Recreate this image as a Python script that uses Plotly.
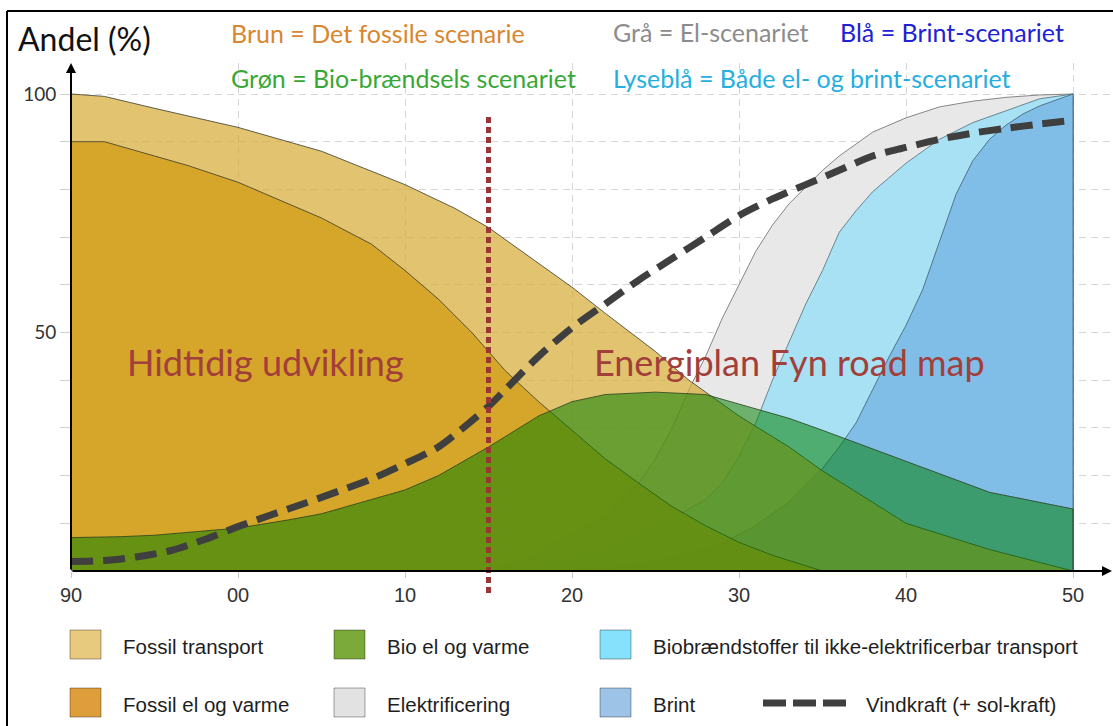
import plotly.graph_objects as go

# data (share in %)
ft_years = [1990, 1992, 1995, 2000, 2005, 2010, 2013, 2015, 2017, 2020, 2022, 2025, 2027, 2030, 2033, 2035, 2040, 2045, 2050]
fossil_transport = [100, 99.5, 97, 93, 88, 81, 76, 72, 67, 59.5, 54, 46, 40, 32.5, 26, 21, 10, 4.5, 0]

fe_years = [1990, 1992, 1995, 1997, 2000, 2003, 2005, 2008, 2010, 2012, 2014, 2015, 2016, 2018, 2020, 2022, 2024, 2026, 2028, 2030, 2032, 2035]
fossil_el = [90, 90, 87, 85, 81.5, 77, 74, 68.5, 63, 57, 50, 46, 42, 35.5, 29.5, 23.5, 18.4, 13.5, 9.5, 6, 3.3, 0]

bio_years = [1990, 1993, 1995, 2000, 2003, 2005, 2008, 2010, 2012, 2015, 2018, 2020, 2022, 2025, 2028, 2030, 2033, 2035, 2040, 2045, 2050]
bio = [7, 7.2, 7.5, 9, 10.7, 12, 15, 17, 20, 26, 32.5, 35.5, 37, 37.5, 37, 35, 32, 29.5, 23, 16.5, 13]

el_years = [2015, 2017, 2020, 2022, 2024, 2025, 2026, 2027, 2028, 2029, 2030, 2031, 2032, 2033, 2034, 2035, 2036, 2037, 2038, 2040, 2042, 2044, 2046, 2048, 2050]
elektrificering = [0, 2, 7.5, 11.5, 18.5, 23.5, 30, 38, 45, 53, 60, 67, 72.5, 77, 80.5, 84, 87, 89.5, 92, 95, 97.3, 98.5, 99.3, 99.8, 100]

bf_years = [2016, 2018, 2020, 2022, 2024, 2026, 2028, 2029, 2030, 2031, 2032, 2033, 2034, 2035, 2036, 2037, 2038, 2040, 2042, 2044, 2046, 2048, 2050]
biobraendstof = [0, 1, 2.5, 5, 8, 11, 15, 18.5, 24, 31, 40, 48, 56, 63, 71, 75.5, 79.5, 85.5, 90.5, 94, 96.5, 99, 100]

h2_years = [2019, 2023, 2025, 2027, 2029, 2031, 2033, 2035, 2036, 2037, 2038, 2039, 2040, 2041, 2042, 2043, 2044, 2045, 2046, 2047, 2048, 2050]
brint = [0, 0.8, 1.8, 3.5, 5.8, 9.5, 14.5, 21.5, 26, 31, 38, 45, 51.5, 59, 69, 79, 86, 90.5, 93.5, 95.8, 97.5, 100]

wind_years = [1990, 1992, 1994, 1996, 1998, 2000, 2002, 2004, 2006, 2008, 2010, 2012, 2014, 2015, 2016, 2018, 2020, 2022, 2024, 2026, 2028, 2030, 2032, 2034, 2036, 2038, 2040, 2042, 2044, 2046, 2048, 2050]
vindkraft = [2, 2.2, 3, 4.3, 6.6, 9.3, 11.8, 14.2, 16.7, 19.3, 22.5, 26, 31.5, 34.5, 38, 45, 51, 56, 61, 65.5, 70, 74.5, 78, 81, 84, 87, 88.8, 90.5, 91.8, 92.8, 93.7, 94.5]

x_ticks = [1990, 2000, 2010, 2020, 2030, 2040, 2050]
x_labels = ["90", "00", "10", "20", "30", "40", "50"]
y_ticks = [10, 20, 30, 40, 50, 60, 70, 80, 90, 100]
y_labels = ["", "", "", "", "50", "", "", "", "", "100"]

# plot area in pixels
L, T, W, H = 71, 63, 1039, 508


def px(p):
    return (p - L) / W


def py(p):
    return (571 - p) / H


fig = go.Figure()

# drawing order: bottom to top
areas = [
    ("Elektrificering", el_years, elektrificering, "#E8E8E8", "#6A6A6A"),
    ("Biobrændstoffer til ikke-elektrificerbar transport", bf_years, biobraendstof, "#A7E1F3", "#4F6F7A"),
    ("Brint", h2_years, brint, "#80BEE8", "#3D5D72"),
    ("Fossil transport", ft_years, fossil_transport, "rgba(214,170,50,0.7)", "#3A3A2A"),
    ("Fossil el og varme", fe_years, fossil_el, "rgba(212,161,30,0.85)", "#3A3A2A"),
    ("Bio el og varme", bio_years, bio, "rgba(2,126,0,0.53)", "#2A4020"),
]
for name, xs, ys, fc, lc in areas:
    xs = list(xs)
    ys = list(ys)
    if ys[-1] != 0:
        xs.append(xs[-1])
        ys.append(0)
    fig.add_trace(go.Scatter(
        x=xs, y=ys, mode="lines", fill="tozeroy", fillcolor=fc,
        line=dict(color=lc, width=0.8), name=name, hoverinfo="skip",
    ))

fig.add_trace(go.Scatter(
    x=wind_years, y=vindkraft, mode="lines", name="Vindkraft (+ sol-kraft)",
    line=dict(color="#3F3F3F", width=7, dash="22px,10px", shape="spline", smoothing=0.8),
    hoverinfo="skip",
))

sans = "Liberation Sans, Arial"
head = "Lato, Open Sans, sans-serif"

shapes = [
    # 2015 divider
    dict(type="line", xref="x", yref="paper", x0=2015, x1=2015, y0=py(593), y1=py(113),
         line=dict(color="#9B3535", width=5, dash="6px,4px")),
    # picture frame
    dict(type="line", xref="paper", yref="paper", x0=px(7), x1=px(1113), y0=py(11), y1=py(11),
         line=dict(color="black", width=2)),
    dict(type="line", xref="paper", yref="paper", x0=px(7), x1=px(7), y0=py(11), y1=py(726),
         line=dict(color="black", width=2)),
]

annotations = [
    # axis arrows
    dict(x=0, y=1, xref="paper", yref="paper", ax=0, ay=H, axref="pixel", ayref="pixel",
         showarrow=True, arrowhead=2, arrowsize=1, arrowwidth=2, arrowcolor="black", text=""),
    dict(x=px(1112), y=0, xref="paper", yref="paper", ax=-(1112 - L), ay=0,
         showarrow=True, arrowhead=2, arrowsize=1, arrowwidth=2, arrowcolor="black", text=""),
]


def note(text, x, y, size, color, family=head, xanchor="left"):
    annotations.append(dict(
        text=text, x=px(x), y=py(y), xref="paper", yref="paper", showarrow=False,
        xanchor=xanchor, yanchor="middle", font=dict(size=size, color=color, family=family),
    ))


note("Andel (%)", 16, 38, 32, "#111111")
note("Brun = Det fossile scenarie", 229, 33, 25, "#D9862E")
note("Grå = El-scenariet", 611, 32, 25, "#8C8C8C")
note("Blå = Brint-scenariet", 838, 32, 25, "#2121D6")
note("Grøn = Bio-brændsels scenariet", 229, 78, 25, "#37A836")
note("Lyseblå = Både el- og brint-scenariet", 611, 78, 25, "#25AEE0")
note("Hidtidig udvikling", 125, 362, 36, "#A23F3B")
note("Energiplan Fyn road map", 592, 362, 36, "#A23F3B")

# legend built by hand to get the 3-column layout
legend_items = [
    ("Fossil transport", 70, 630, "#E8CA7E"),
    ("Bio el og varme", 334, 630, "#7BAA3A"),
    ("Biobrændstoffer til ikke-elektrificerbar transport", 600, 630, "#86E2FC"),
    ("Fossil el og varme", 70, 688, "#DE9E3C"),
    ("Elektrificering", 334, 688, "#E2E2E2"),
    ("Brint", 600, 688, "#9DC3E6"),
]
for label, x0, y0, col in legend_items:
    shapes.append(dict(type="rect", xref="paper", yref="paper",
                       x0=px(x0), x1=px(x0 + 31), y0=py(y0), y1=py(y0 + 29),
                       fillcolor=col, line=dict(color="rgba(0,0,0,0.35)", width=1)))
    note(label, x0 + 51, y0 + 16, 20.5, "#1E1E1E", family=sans)

shapes.append(dict(type="line", xref="paper", yref="paper", x0=px(763), x1=px(846),
                   y0=py(703), y1=py(703), line=dict(color="#3F3F3F", width=7, dash="23px,7px")))
note("Vindkraft (+ sol-kraft)", 864, 704, 20.5, "#1E1E1E", family=sans)

fig.update_layout(
    width=1113, height=726,
    margin=dict(l=L, r=1113 - L - W, t=T, b=726 - T - H),
    paper_bgcolor="white", plot_bgcolor="white",
    showlegend=False,
    shapes=shapes, annotations=annotations,
    xaxis=dict(
        range=[1990, 1990 + W / 16.7], tickvals=x_ticks, ticktext=x_labels,
        showgrid=True, gridcolor="#D6D6D6", griddash="7px,5px", gridwidth=1,
        ticks="outside", ticklen=6, tickcolor="#C8C8C8",
        tickfont=dict(size=20, color="#333333", family=sans),
        showline=False, zeroline=False,
    ),
    yaxis=dict(
        range=[0, H / 4.77], tickvals=y_ticks, ticktext=y_labels,
        showgrid=True, gridcolor="#D6D6D6", griddash="7px,5px", gridwidth=1,
        ticks="outside", ticklen=10, tickcolor="#D0D0D0",
        tickfont=dict(size=19, color="#333333", family=head),
        showline=False, zeroline=False,
    ),
)

# the page has a default body margin; drop it so the figure sits at the window corner
fig.write_html("out.html", config={"displayModeBar": False},
               post_script="document.body.style.margin='0px';")
